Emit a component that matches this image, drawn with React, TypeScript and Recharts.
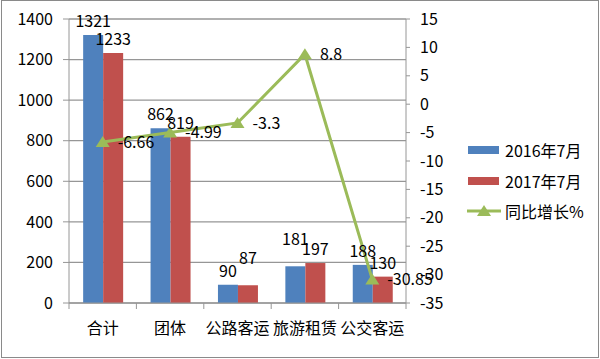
import React from 'react'
import {
  ComposedChart,
  Bar,
  Line,
  XAxis,
  YAxis,
  CartesianGrid,
  Legend,
  LabelList,
} from 'recharts'

const categories = ['合计', '团体', '公路客运', '旅游租赁', '公交客运']
const values2016 = [1321, 862, 90, 181, 188]
const values2017 = [1233, 819, 87, 197, 130]
const growth = [-6.66, -4.99, -3.3, 8.8, -30.85]
const leftTicks = [0, 200, 400, 600, 800, 1000, 1200, 1400]
const rightTicks = [-35, -30, -25, -20, -15, -10, -5, 0, 5, 10, 15]

const BLUE = '#4F81BD'
const RED = '#C0504D'
const GREEN = '#9BBB59'
const GRID = '#969696'
const FONT = '"Noto Sans CJK SC", "Open Sans", sans-serif'

const data = categories.map((name, i) => ({
  name,
  y2016: values2016[i],
  y2017: values2017[i],
  growth: growth[i],
}))

const PLOT_W = 337
const HALF_BAND = PLOT_W / categories.length / 2

// when the two bars of a category are almost the same height, lift the lower one's label
const barLabel = (own: number[], other: number[]) => (props: any) => {
  const { x, y, width, index, value } = props
  const close = Math.abs(own[index] - other[index]) < 20 && own[index] < other[index]
  return (
    <text
      x={x + width / 2}
      y={y - 8 - (close ? 13 : 0)}
      textAnchor="middle"
      fill="#000"
      fontSize={16}
      fontFamily={FONT}
    >
      {value}
    </text>
  )
}

const CategoryTick = (props: any) => {
  const { x, y, payload, index } = props
  return (
    <g>
      <line x1={x - HALF_BAND} y1={y - 17} x2={x - HALF_BAND} y2={y - 11} stroke={GRID} />
      {index === categories.length - 1 && (
        <line x1={x + HALF_BAND} y1={y - 17} x2={x + HALF_BAND} y2={y - 11} stroke={GRID} />
      )}
      <text x={x} y={y} dy="0.9em" textAnchor="middle" fill="#000" fontSize={16} fontFamily={FONT}>
        {payload.value}
      </text>
    </g>
  )
}

const Triangle = (props: any) => {
  const { cx, cy } = props
  if (cx == null || cy == null) return null
  return <path d={`M${cx},${cy - 6} L${cx + 7},${cy + 5} L${cx - 7},${cy + 5} Z`} fill={GREEN} />
}

const renderLegend = () => (
  <div style={{ fontFamily: FONT, fontSize: 16, color: '#000', lineHeight: '20px' }}>
    {[
      { label: '2016年7月', color: BLUE, kind: 'bar' },
      { label: '2017年7月', color: RED, kind: 'bar' },
      { label: '同比增长%', color: GREEN, kind: 'line' },
    ].map((it) => (
      <div key={it.label} style={{ display: 'flex', alignItems: 'center', height: 30.5 }}>
        <svg width={36} height={14} style={{ marginRight: 3 }}>
          {it.kind === 'bar' ? (
            <rect x={2} y={3} width={31} height={8} fill={it.color} />
          ) : (
            <g>
              <line x1={1} y1={7} x2={35} y2={7} stroke={it.color} strokeWidth={3} />
              <path d="M18,1 L25,12 L11,12 Z" fill={it.color} />
            </g>
          )}
        </svg>
        <span>{it.label}</span>
      </div>
    ))}
  </div>
)

export default function App() {
  return (
    <div style={{ position: 'absolute', left: 0, top: 0, width: 600, height: 359, background: '#fff' }}>
      <style>{'body{margin:0}'}</style>
      <div
        style={{
          position: 'absolute',
          left: 1,
          top: 0,
          width: 596,
          height: 356,
          border: '1px solid #8A8A8A',
        }}
      />
      <ComposedChart
        width={600}
        height={359}
        data={data}
        margin={{ top: 19, right: 0, left: 0, bottom: 0 }}
        barCategoryGap="21%"
        barGap={0}
      >
        <CartesianGrid yAxisId="left" vertical={false} stroke={GRID} strokeWidth={1.3} />
        <XAxis
          dataKey="name"
          height={56}
          axisLine={{ stroke: GRID }}
          tickLine={false}
          tickSize={0}
          tickMargin={17}
          tick={<CategoryTick />}
          interval={0}
        />
        <YAxis
          yAxisId="left"
          width={69}
          domain={[0, 1400]}
          ticks={leftTicks}
          axisLine={{ stroke: GRID }}
          tickLine={{ stroke: GRID }}
          tickSize={6}
          tickMargin={10}
          tick={{ fill: '#000', fontSize: 16, fontFamily: FONT }}
        />
        <YAxis
          yAxisId="right"
          orientation="right"
          width={194}
          domain={[-35, 15]}
          ticks={rightTicks}
          axisLine={{ stroke: GRID }}
          tickLine={{ stroke: GRID }}
          tickSize={4}
          tickMargin={10}
          tick={{ fill: '#000', fontSize: 16, fontFamily: FONT }}
        />
        <Bar yAxisId="left" dataKey="y2016" name="2016年7月" fill={BLUE} isAnimationActive={false}>
          <LabelList dataKey="y2016" content={barLabel(values2016, values2017)} />
        </Bar>
        <Bar yAxisId="left" dataKey="y2017" name="2017年7月" fill={RED} isAnimationActive={false}>
          <LabelList dataKey="y2017" content={barLabel(values2017, values2016)} />
        </Bar>
        <Line
          yAxisId="right"
          dataKey="growth"
          name="同比增长%"
          type="linear"
          stroke={GREEN}
          strokeWidth={3}
          dot={<Triangle />}
          activeDot={false}
          isAnimationActive={false}
        >
          <LabelList dataKey="growth" position="right" offset={15} fill="#000" fontSize={16} fontFamily={FONT} />
        </Line>
        <Legend
          layout="vertical"
          align="center"
          verticalAlign="middle"
          content={renderLegend}
          wrapperStyle={{ left: 466, top: 135, width: 130 }}
        />
      </ComposedChart>
    </div>
  )
}
